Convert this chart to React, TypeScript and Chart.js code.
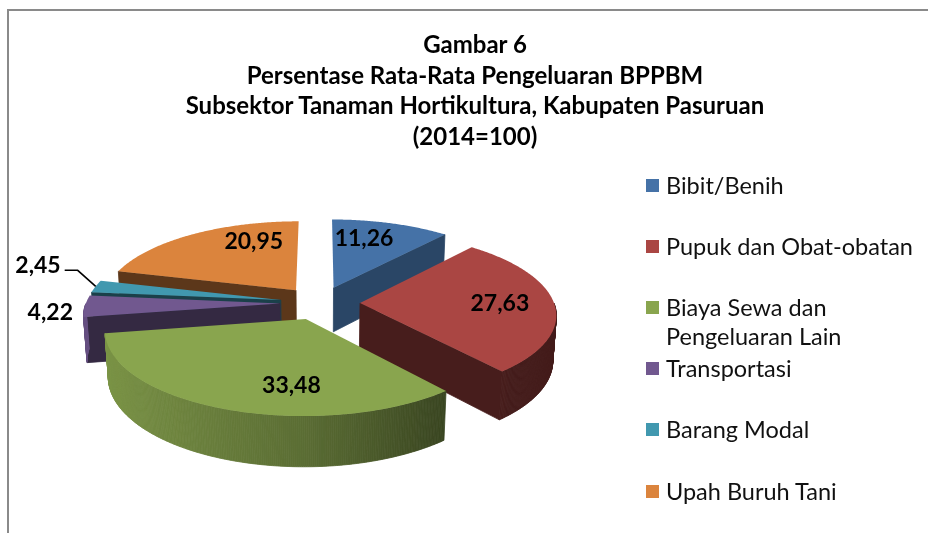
import React, { useEffect, useRef } from "react";
import { Chart, registerables } from "chart.js";

Chart.register(...registerables);

// ---------------- data ----------------
const categories = [
  "Bibit/Benih",
  "Pupuk dan Obat-obatan",
  "Biaya Sewa dan Pengeluaran Lain",
  "Transportasi",
  "Barang Modal",
  "Upah Buruh Tani",
];
const legendLines = [
  ["Bibit/Benih"],
  ["Pupuk dan Obat-obatan"],
  ["Biaya Sewa dan", "Pengeluaran Lain"],
  ["Transportasi"],
  ["Barang Modal"],
  ["Upah Buruh Tani"],
];
const values = [11.26, 27.63, 33.48, 4.22, 2.45, 20.95];
const colors = ["#4572A7", "#AA4643", "#89A54E", "#71588F", "#4198AF", "#DB843D"];
const titleLines = [
  "Gambar 6",
  "Persentase Rata-Rata Pengeluaran BPPBM",
  "Subsektor Tanaman Hortikultura, Kabupaten Pasuruan",
  "(2014=100)",
];

// ---------------- 3D look ----------------
const PIE_RADIUS = 194;
const EXPLODE = 40;
const DEPTH = 50;
const TILT = Math.asin(0.415);
const DISTANCE = 1400;
const LABEL_R = 0.72;
const SMALL_SLICE = 0.35; // radians: below this, label goes outside
const LABEL_FONT = "bold 23px Lato";
const FONT = "Lato, 'Open Sans', sans-serif";

const fmt = (v: number) => v.toFixed(2).replace(".", ",");

function shade(hex: string, f: number) {
  const n = parseInt(hex.slice(1), 16);
  const r = Math.round(((n >> 16) & 255) * f);
  const g = Math.round(((n >> 8) & 255) * f);
  const b = Math.round((n & 255) * f);
  return `rgb(${Math.min(255, r)},${Math.min(255, g)},${Math.min(255, b)})`;
}

const pie3d = {
  id: "pie3d",
  beforeDatasetsDraw(chart: any) {
    const ctx: CanvasRenderingContext2D = chart.ctx;
    const meta = chart.getDatasetMeta(0);
    const arcs: any[] = meta.data;
    if (!arcs.length) return false;
    const cx = arcs[0].x;
    const cy = arcs[0].y;
    const R = arcs[0].outerRadius;
    const S = Math.sin(TILT);
    const C = Math.cos(TILT);
    const D = DISTANCE;
    const H = DEPTH;
    const proj = (wx: number, wy: number, wz: number): [number, number] => {
      const dist = D + wz * C - wy * S;
      return [cx + (D * wx) / dist, cy - (D * (wy * C + wz * S)) / dist];
    };

    const slices = arcs
      .map((arc, i) => {
        const a0 = arc.startAngle;
        const a1 = arc.endAngle;
        const m = (a0 + a1) / 2;
        const ex = EXPLODE * Math.cos(m);
        const ez = -EXPLODE * Math.sin(m);
        const key = ez - 0.5 * R * Math.sin(m);
        // label angle: middle of the slice as seen on the flattened ellipse
        const p0 = Math.atan2(S * Math.sin(a0), Math.cos(a0));
        let p1 = Math.atan2(S * Math.sin(a1), Math.cos(a1));
        while (p1 < p0) p1 += Math.PI * 2;
        const pm = (p0 + p1) / 2;
        const la = Math.atan2(Math.sin(pm) / S, Math.cos(pm));
        return { i, a0, a1, m, ex, ez, key, la };
      })
      .sort((p, q) => q.key - p.key);

    const quad = (pts: [number, number][], fill: string) => {
      ctx.beginPath();
      ctx.moveTo(pts[0][0], pts[0][1]);
      for (let k = 1; k < pts.length; k++) ctx.lineTo(pts[k][0], pts[k][1]);
      ctx.closePath();
      ctx.fillStyle = fill;
      ctx.strokeStyle = fill;
      ctx.lineWidth = 0.8;
      ctx.fill();
      ctx.stroke();
    };

    ctx.save();
    for (const s of slices) {
      const col = colors[s.i];
      const P = (a: number, r: number, y: number) =>
        proj(s.ex + r * Math.cos(a), y, s.ez - r * Math.sin(a));
      const n = Math.max(2, Math.ceil((s.a1 - s.a0) / (Math.PI / 360)));
      const top: [number, number][] = [];
      const bot: [number, number][] = [];
      for (let j = 0; j <= n; j++) {
        const a = s.a0 + ((s.a1 - s.a0) * j) / n;
        top.push(P(a, R, 0));
        bot.push(P(a, R, -H));
      }
      const apexT = P(0, 0, 0);
      const apexB = P(0, 0, -H);
      // radial walls
      if (Math.cos(s.a0) < -1e-6) {
        const f = 0.42 + 0.25 * Math.max(0, Math.sin(s.a0));
        quad([apexT, top[0], bot[0], apexB], shade(col, f));
      }
      if (Math.cos(s.a1) > 1e-6) {
        const f = 0.42 + 0.25 * Math.max(0, -Math.sin(s.a1));
        quad([apexT, top[n], bot[n], apexB], shade(col, f));
      }
      // curved outer wall
      for (let j = 0; j < n; j++) {
        const am = s.a0 + ((s.a1 - s.a0) * (j + 0.5)) / n;
        if (Math.sin(am) <= 0) continue;
        const nx = Math.cos(am);
        const f = nx < 0 ? 0.66 - 0.24 * nx : Math.max(0.4, 0.66 - 0.38 * nx);
        quad([top[j], top[j + 1], bot[j + 1], bot[j]], shade(col, f));
      }
      // top face
      ctx.beginPath();
      ctx.moveTo(apexT[0], apexT[1]);
      for (const p of top) ctx.lineTo(p[0], p[1]);
      ctx.closePath();
      ctx.fillStyle = col;
      ctx.fill();
    }

    // labels
    ctx.font = LABEL_FONT;
    ctx.fillStyle = "#000";
    ctx.textBaseline = "middle";
    const placed: { x0: number; x1: number; y0: number; y1: number }[] = [];
    const ordered = slices.map((s) => s).sort((p, q) => p.i - q.i);
    for (const s of ordered) {
      const text = fmt(values[s.i]);
      const span = s.a1 - s.a0;
      if (span >= SMALL_SLICE) {
        const p = proj(
          s.ex + LABEL_R * R * Math.cos(s.la),
          0,
          s.ez - LABEL_R * R * Math.sin(s.la)
        );
        ctx.textAlign = "center";
        ctx.fillText(text, p[0], p[1]);
      }
    }
    // outside labels, biggest first
    const small = ordered
      .filter((s) => s.a1 - s.a0 < SMALL_SLICE)
      .sort((p, q) => values[q.i] - values[p.i]);
    for (const s of small) {
      const text = fmt(values[s.i]);
      const w = ctx.measureText(text).width;
      const anchor = proj(s.ex + R * Math.cos(s.m), 0, s.ez - R * Math.sin(s.m));
      let right = anchor[0] - 12;
      let y = anchor[1] + 6;
      const box = () => ({ x0: right - w, x1: right, y0: y - 10, y1: y + 10 });
      const hit = placed.some((b) => {
        const c = box();
        return c.x0 < b.x1 && c.x1 > b.x0 && c.y0 < b.y1 && c.y1 > b.y0;
      });
      if (hit) {
        right = anchor[0] - 35;
        y = anchor[1] - 21;
        ctx.beginPath();
        ctx.moveTo(anchor[0], anchor[1]);
        ctx.lineTo(right + 17, y + 5);
        ctx.lineTo(right + 4, y + 5);
        ctx.strokeStyle = "#000";
        ctx.lineWidth = 1.6;
        ctx.stroke();
      }
      ctx.textAlign = "right";
      ctx.fillText(text, right, y);
      placed.push(box());
    }
    ctx.restore();
    return false;
  },
};

export default function App() {
  const ref = useRef<HTMLCanvasElement | null>(null);
  useEffect(() => {
    if (!ref.current) return;
    const chart = new Chart(ref.current, {
      type: "pie",
      data: {
        labels: categories,
        datasets: [{ data: values, backgroundColor: colors, borderWidth: 0 }],
      },
      options: {
        animation: false,
        responsive: false,
        events: [],
        radius: PIE_RADIUS,
        layout: { padding: { left: 22, right: 310, top: 93, bottom: 20 } },
        plugins: {
          legend: { display: false },
          title: { display: false },
          tooltip: { enabled: false },
        },
      } as any,
      plugins: [pie3d as any],
    });
    return () => chart.destroy();
  }, []);

  return (
    <div
      style={{
        position: "absolute",
        left: 0,
        top: 0,
        width: 928,
        height: 533,
        background: "#fff",
        overflow: "hidden",
        fontFamily: FONT,
      }}
    >
      <div
        style={{
          position: "absolute",
          left: 7,
          top: 9,
          width: 940,
          height: 540,
          borderTop: "2px solid #8a8a8a",
          borderLeft: "2px solid #8a8a8a",
        }}
      />
      <canvas
        ref={ref}
        width={928}
        height={533}
        style={{ position: "absolute", left: 0, top: 0 }}
      />
      <div
        style={{
          position: "absolute",
          left: 0,
          top: 29,
          width: 950,
          textAlign: "center",
          fontWeight: 700,
          fontSize: 24,
          lineHeight: "30.5px",
          color: "#000",
        }}
      >
        {titleLines.map((t, i) => (
          <div key={i}>{t}</div>
        ))}
      </div>
      {legendLines.map((lines, i) => (
        <div
          key={i}
          style={{
            position: "absolute",
            left: 646,
            top: 170.5 + i * 61.2,
            fontSize: 23.5,
            lineHeight: "29px",
            color: "#111",
          }}
        >
          <div
            style={{
              position: "absolute",
              left: 0,
              top: 8,
              width: 13,
              height: 13,
              background: colors[i],
            }}
          />
          <div style={{ marginLeft: 20, whiteSpace: "nowrap" }}>
            {lines.map((l, k) => (
              <div key={k}>{l}</div>
            ))}
          </div>
        </div>
      ))}
    </div>
  );
}
